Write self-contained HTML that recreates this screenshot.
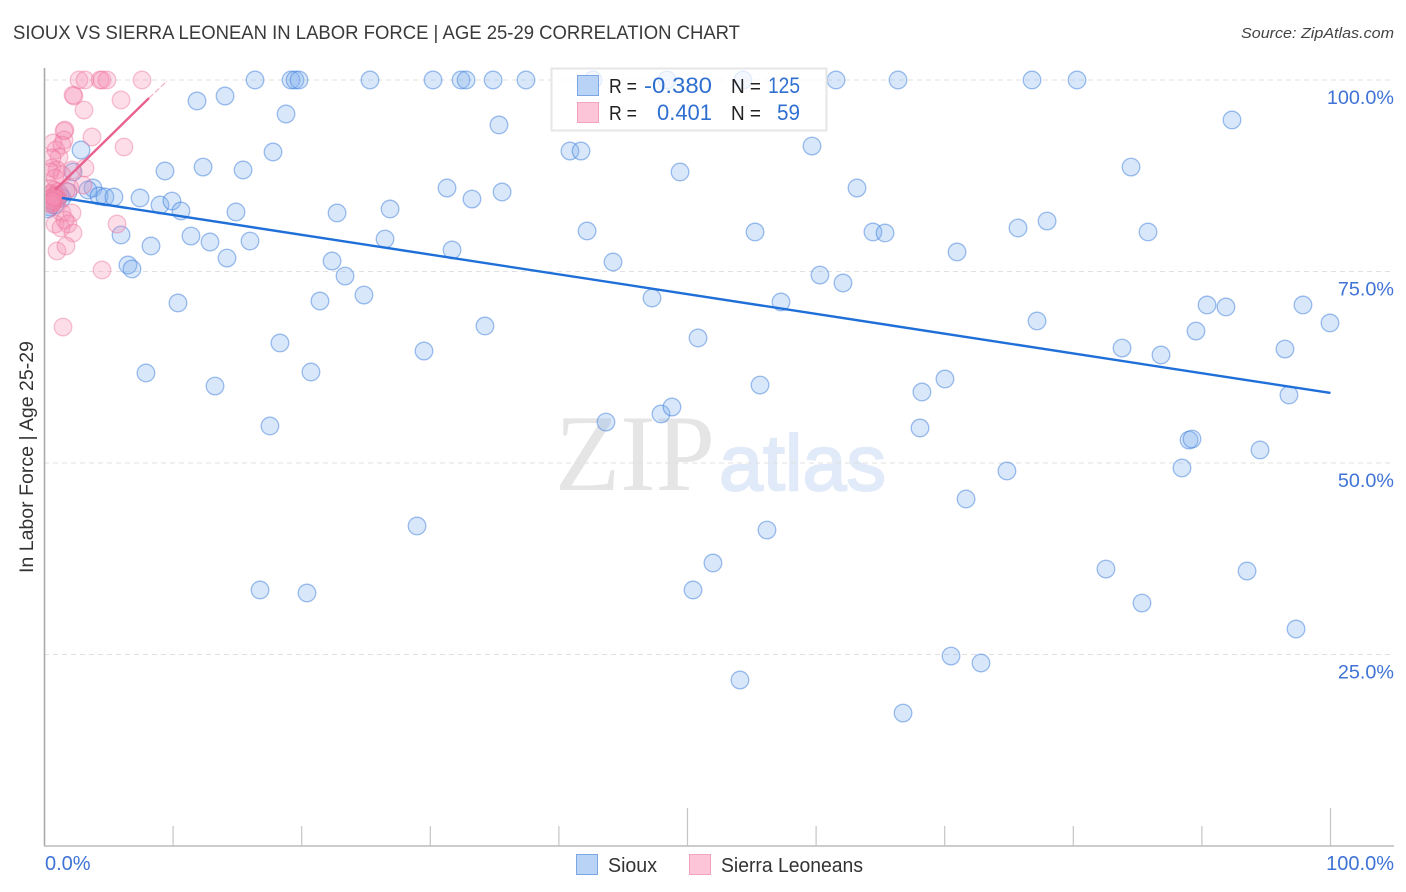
<!DOCTYPE html>
<html lang="en">
<head>
<meta charset="utf-8">
<title>Sioux vs Sierra Leonean in Labor Force | Age 25-29 Correlation Chart</title>
<style>
html,body{margin:0;padding:0;background:#fff}
svg{display:block}
text{font-family:"Liberation Sans",sans-serif}
</style>
</head>
<body>
<svg id="chart" xmlns="http://www.w3.org/2000/svg" width="1406" height="892" viewBox="0 0 1406 892">
  <defs><clipPath id="plot-clip"><rect x="45.5" y="60" width="1360" height="790"/></clipPath></defs>
  <rect width="1406" height="892" fill="#fff"/>
  <text x="13" y="39" font-size="19.5" fill="#3a3a3a" textLength="727" lengthAdjust="spacingAndGlyphs">SIOUX VS SIERRA LEONEAN IN LABOR FORCE | AGE 25-29 CORRELATION CHART</text>
  <text x="1394" y="38" font-size="15" font-style="italic" fill="#444" text-anchor="end" textLength="153" lengthAdjust="spacingAndGlyphs">Source: ZipAtlas.com</text>
  <g id="watermark">
    <text x="555" y="490" font-size="109" fill="#e5e5e5" textLength="160" lengthAdjust="spacingAndGlyphs" style="font-family:'Liberation Serif',serif">ZIP</text>
    <text x="719" y="490" font-size="79" fill="#e1eaf8" stroke="#e1eaf8" stroke-width="2" textLength="167" lengthAdjust="spacingAndGlyphs">atlas</text>
  </g>
  <g id="grid"></g>
  <g id="axes"></g>
  <g clip-path="url(#plot-clip)">
    <g id="sioux-points"></g>
    <g id="sierra-points"></g>
  </g>
  <g id="trends"></g>
  <text transform="translate(33,573) rotate(-90)" font-size="19" fill="#333" textLength="232" lengthAdjust="spacingAndGlyphs">In Labor Force | Age 25-29</text>
  <g id="stat-legend">
    <rect x="551.5" y="68.5" width="275" height="62" fill="#fff" fill-opacity="0.72" stroke="#e6e6e6" stroke-width="2"/>
    <rect x="577.5" y="75.5" width="21" height="20" fill="#b9d3f7" stroke="#7da7e3"/>
    <rect x="577.5" y="102.5" width="21" height="20" fill="#fcc6d8" stroke="#f2a3bd"/>
    <text x="609" y="93" font-size="20" fill="#222" textLength="28" lengthAdjust="spacingAndGlyphs">R =</text>
    <text x="644" y="93" font-size="22" fill="#2f6fd0" textLength="68" lengthAdjust="spacingAndGlyphs">-0.380</text>
    <text x="731" y="93" font-size="20" fill="#222" textLength="30" lengthAdjust="spacingAndGlyphs">N =</text>
    <text x="768" y="93" font-size="22" fill="#2f6fd0" textLength="32" lengthAdjust="spacingAndGlyphs">125</text>
    <text x="609" y="120" font-size="20" fill="#222" textLength="28" lengthAdjust="spacingAndGlyphs">R =</text>
    <text x="657" y="120" font-size="22" fill="#2f6fd0" textLength="55" lengthAdjust="spacingAndGlyphs">0.401</text>
    <text x="731" y="120" font-size="20" fill="#222" textLength="30" lengthAdjust="spacingAndGlyphs">N =</text>
    <text x="777" y="120" font-size="22" fill="#2f6fd0" textLength="23" lengthAdjust="spacingAndGlyphs">59</text>
  </g>
  <g id="bottom-legend">
    <rect x="576.5" y="854.5" width="21" height="20" fill="#b9d3f7" stroke="#7da7e3"/>
    <text x="608" y="872" font-size="20" fill="#333" textLength="49" lengthAdjust="spacingAndGlyphs">Sioux</text>
    <rect x="689.5" y="854.5" width="21" height="20" fill="#fcc6d8" stroke="#f2a3bd"/>
    <text x="721" y="872" font-size="20" fill="#333" textLength="142" lengthAdjust="spacingAndGlyphs">Sierra Leoneans</text>
  </g>
</svg>
<script>
const yTickValues = [100, 75, 50, 25];
const yTickLabels = ["100.0%", "75.0%", "50.0%", "25.0%"];
const xTickValues = [0, 10, 20, 30, 40, 50, 60, 70, 80, 90, 100];
const xEdgeValues = [0, 100];
const xEdgeLabels = ["0.0%", "100.0%"];

const siouxX = [16.37,19.17,19.48,19.79,25.31,30.21,32.39,32.78,34.88,37.44,42.65,48.41,54.32,61.55,66.37,76.79,80.29,
11.86,14.04,18.78,35.34,92.34,59.68,40.86,41.72,17.77,2.84,9.37,12.33,15.44,49.42,84.49,2.22,31.30,63.18,35.58,3.77,3.38,4.24,4.70,5.40,7.43,8.98,9.91,10.61,14.89,22.75,26.87,33.24,77.96,75.70,85.81,42.19,55.25,64.42,65.36,5.95,11.39,12.87,15.98,26.48,8.28,31.69,70.96,14.19,22.36,44.21,6.49,6.80,23.37,60.30,62.09,24.84,21.42,10.38,47.24,57.27,90.40,91.87,97.86,77.18,99.96,34.25,89.54,50.82,18.31,29.51,83.79,86.82,96.46,7.89,20.72,13.26,55.64,70.02,68.23,96.77,43.66,47.94,48.79,17.53,68.08,89.00,89.23,94.52,74.84,88.45,71.66,28.97,56.18,51.98,82.54,93.51,16.76,20.41,50.43,85.34,97.32,70.49,72.82,54.08,66.76,0.97,1.36,0.43,0.82,1.21,1.83,0.27];
const siouxY = [100,100,100,100,100,100,100,100,100,100,100,100,100,100,100,100,100,
97.26,97.91,95.56,94.13,94.78,91.38,90.73,90.73,90.60,90.86,88.12,88.64,88.25,87.99,88.64,87.99,85.90,85.90,85.38,85.90,85.64,84.86,84.73,84.73,84.60,83.68,84.20,82.90,82.77,82.64,83.16,84.46,81.59,80.68,80.16,80.29,80.16,80.16,80.03,79.77,79.63,78.85,78.98,79.24,78.33,77.81,77.55,76.76,76.37,76.24,75.85,75.33,74.41,74.54,73.50,71.93,71.15,70.89,71.54,71.02,70.63,70.37,70.63,68.54,68.28,67.89,67.23,66.32,65.67,64.62,65.01,64.10,64.88,61.75,61.88,60.05,60.18,60.97,59.27,58.88,55.35,56.40,57.31,54.83,54.57,53.00,53.13,51.70,48.96,49.35,45.30,41.78,41.25,36.95,36.16,35.90,33.42,33.03,33.42,31.72,28.33,24.80,23.89,21.67,17.36,84.46,84.60,83.42,83.68,84.99,85.38,83.16];

const sierraX = [2.68,3.15,4.32,4.47,4.86,7.58,2.29,2.22,5.95,3.07,1.59,1.52,1.52,3.69,6.18,0.66,0.89,1.36,1.13,0.58,3.15,0.58,0.97,2.14,0.43,1.36,0.82,2.99,1.98,0.45,0.74,0.55,1.05,1.67,0.50,0.62,0.90,0.45,0.74,1.00,0.50,0.62,0.95,0.55,1.36,2.14,0.82,5.64,0.82,1.83,1.59,1.28,2.22,0.97,1.67,4.47,1.44,0.70,0.60];
const sierraY = [100,100,100,100,100,100,97.91,98.04,97.39,96.08,93.47,93.34,92.17,92.56,91.25,91.78,90.86,91.51,89.95,89.82,88.51,88.51,88.25,88.25,87.99,87.60,87.20,86.29,85.90,85.80,85.60,85.20,85.40,85.51,85.00,84.70,84.90,84.46,84.33,84.40,83.90,83.95,84.00,83.70,82.64,82.64,84.60,81.20,81.20,81.20,81.72,80.68,80.03,77.68,78.33,75.20,67.75,84.80,84.20];

const siouxTrendX = [1.36, 100];
const siouxTrendY = [84.6, 59.14];
const sierraTrendX = [0.82, 8.13];
const sierraTrendY = [85.64, 97.65];
const sierraTrendExtendX = [8.13, 9.53];
const sierraTrendExtendY = [97.65, 99.87];

const NS = "http://www.w3.org/2000/svg";
const sx = v => 44.5 + v * 12.86;
const sy = v => 846 - v * 7.66;
function mk(tag, attrs, parent) {
  const el = document.createElementNS(NS, tag);
  for (const k in attrs) el.setAttribute(k, attrs[k]);
  parent.appendChild(el);
  return el;
}
const grid = document.getElementById("grid");
yTickValues.forEach((v, i) => {
  const line = mk("line", {x1: 44, x2: 1394, y1: sy(v), y2: sy(v), stroke: "#e0e0e0", "stroke-width": 1, "stroke-dasharray": "5 4"}, grid);
  
  
  const label = mk("text", {x: 1394, y: sy(v) + 24, "font-size": 19.8, fill: "#3f73d6", "text-anchor": "end"}, grid);
  label.textContent = yTickLabels[i];
  
  
});
const axes = document.getElementById("axes");
const yAxis = mk("line", {x1: 44.5, x2: 44.5, y1: 68, y2: 846, stroke: "#aaa", "stroke-width": 1.6}, axes);


const xAxis = mk("line", {x1: 44, x2: 1394, y1: 846, y2: 846, stroke: "#bbb", "stroke-width": 1.4}, axes);


xTickValues.forEach(v => {
  if (v === 0) return;
  const tall = v === 50 || v === 100;
  const tick = mk("line", {x1: sx(v), x2: sx(v), y1: tall ? 808 : 826, y2: 846, stroke: "#c4c4c4", "stroke-width": 1.2}, axes);
  
  
});
xEdgeValues.forEach((v, i) => {
  const label = mk("text", {x: v === 0 ? 45 : 1394, y: 870, "font-size": 20, fill: "#3f73d6", "text-anchor": v === 0 ? "start" : "end"}, axes);
  label.textContent = xEdgeLabels[i];
  
  
});
const siouxGroup = document.getElementById("sioux-points");
siouxX.forEach((v, i) => {
  const c = mk("circle", {cx: sx(v), cy: sy(siouxY[i]), r: 8.8, fill: "#7fb0ee", "fill-opacity": 0.3, stroke: "#3f7fdc", "stroke-opacity": 0.5, "stroke-width": 1.3}, siouxGroup);
  
  
});
const sierraGroup = document.getElementById("sierra-points");
sierraX.forEach((v, i) => {
  const c = mk("circle", {cx: sx(v), cy: sy(sierraY[i]), r: 8.8, fill: "#f590b2", "fill-opacity": 0.3, stroke: "#ec6f98", "stroke-opacity": 0.42, "stroke-width": 1.3}, sierraGroup);
  
  
});
const trends = document.getElementById("trends");
const t1 = mk("line", {x1: sx(siouxTrendX[0]), y1: sy(siouxTrendY[0]), x2: sx(siouxTrendX[1]), y2: sy(siouxTrendY[1]), stroke: "#1f6fd8", "stroke-width": 2.4}, trends);


const t2 = mk("line", {x1: sx(sierraTrendX[0]), y1: sy(sierraTrendY[0]), x2: sx(sierraTrendX[1]), y2: sy(sierraTrendY[1]), stroke: "#e8628f", "stroke-width": 2.4}, trends);


const t3 = mk("line", {x1: sx(sierraTrendExtendX[0]), y1: sy(sierraTrendExtendY[0]), x2: sx(sierraTrendExtendX[1]), y2: sy(sierraTrendExtendY[1]), stroke: "#f2a3bd", "stroke-width": 1, "stroke-dasharray": "6 2"}, trends);


</script>
</body>
</html>
